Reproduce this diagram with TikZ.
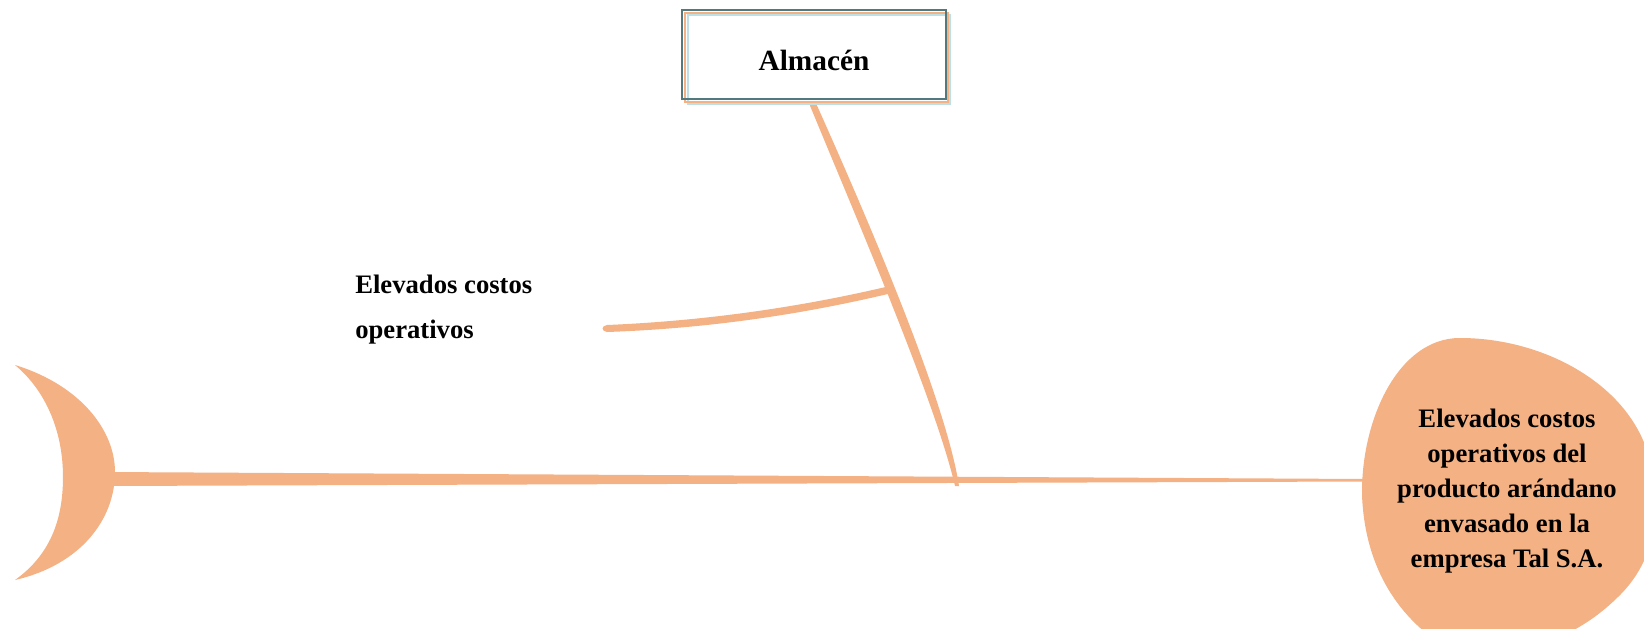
\documentclass[tikz,border=0pt]{standalone}
\usepackage{fontspec}
\setmainfont{Liberation Serif}
\usetikzlibrary{calc}
\definecolor{bonefill}{HTML}{F4B183}
\definecolor{framedark}{HTML}{52797D}
\definecolor{framelight}{HTML}{BCE0E6}
\tikzset{
  bone/.style={fill=bonefill, draw=none},
  frame/.style={line width=1.5pt},
  label text/.style={font=\fontsize{20pt}{33.75pt}\selectfont\bfseries, inner sep=0pt, align=left},
  head text/.style={font=\fontsize{20pt}{26.25pt}\selectfont\bfseries, inner sep=0pt, align=center},
  box text/.style={font=\fontsize{22pt}{26pt}\selectfont\bfseries, inner sep=0pt,
                   text height=24pt, text depth=0pt}
}
\begin{document}
\begin{tikzpicture}[x=0.75pt, y=-0.75pt]
  \path[use as bounding box] (0,0) rectangle (1644,628);
  \clip (0,0) rectangle (1644,628);
  \fill[white] (0,0) rectangle (1644,628);

  % joints of the spine
  \coordinate (tailjoint) at (105,479);
  \coordinate (headjoint) at (1365,480);

  % head of the fish
  \fill[bonefill] (1362,495) .. controls (1361,420) and (1398,338) .. (1460,338)
    .. controls (1540,338) and (1620,380) .. (1645,445)
    .. controls (1665,495) and (1660,555) .. (1620,595)
    .. controls (1590,625) and (1560,640) .. (1520,650)
    -- (1450,650)
    .. controls (1400,620) and (1365,570) .. (1362,495) -- cycle;
  % last line's baseline sets the position
  \node[head text, anchor=base] (effect) at (1507,567)
    {Elevados costos\\operativos del\\producto arándano\\envasado en la\\empresa Tal S.A.};

  % tail (crescent)
  \fill[bone] (15,365) .. controls (80,385) and (115,430) .. (115,472)
    .. controls (115,520) and (80,565) .. (15,580)
    .. controls (50,555) and (63,520) .. (63,477)
    .. controls (63,430) and (45,390) .. (15,365) -- cycle;

  % tapered spine
  \fill[bone] ($(tailjoint)+(0,-7)$) -- ($(headjoint)+(0,-1)$)
    -- ($(headjoint)+(0,1.5)$) -- ($(tailjoint)+(0,7)$) -- cycle;

  % category box
  \node[box text, minimum width=198pt, minimum height=66.75pt] (almacen) at (814,54.5) {Almacén};
  \coordinate (bonetop) at ($(almacen.south)+(-1,4)$);
  \coordinate (bonefoot) at (957,486);

  % main bone from the category box to the spine
  \fill[bone] ($(bonetop)+(-4,0)$) .. controls (855,215) and (935,400) .. ($(bonefoot)+(-2,0)$)
    -- ($(bonefoot)+(2,0)$) .. controls (946,400) and (866,215) .. ($(bonetop)+(3,0)$) -- cycle;

  % box frames
  \draw[frame, framelight] ($(almacen.north west)+(6,5)$) rectangle ($(almacen.south east)+(4,5)$);
  \draw[frame, bonefill] ($(almacen.north west)+(3,3)$) rectangle ($(almacen.south east)+(2,3)$);
  \draw[frame, framedark] (almacen.north west) rectangle (almacen.south east);

  % sub-cause bone
  \coordinate (subjoint) at (891,290);
  \fill[bone] (607,325) .. controls (702.3,321) and (796.7,308) .. ($(subjoint)+(-1,-4)$)
    -- ($(subjoint)+(1,3)$) .. controls (797.3,315.7) and (702.3,328.7) .. (607,332)
    .. controls (601,331) and (601,326) .. (607,325) -- cycle;

  \node[label text, anchor=base west] (cause) at (355,338) {Elevados costos\\operativos};
\end{tikzpicture}
\end{document}
